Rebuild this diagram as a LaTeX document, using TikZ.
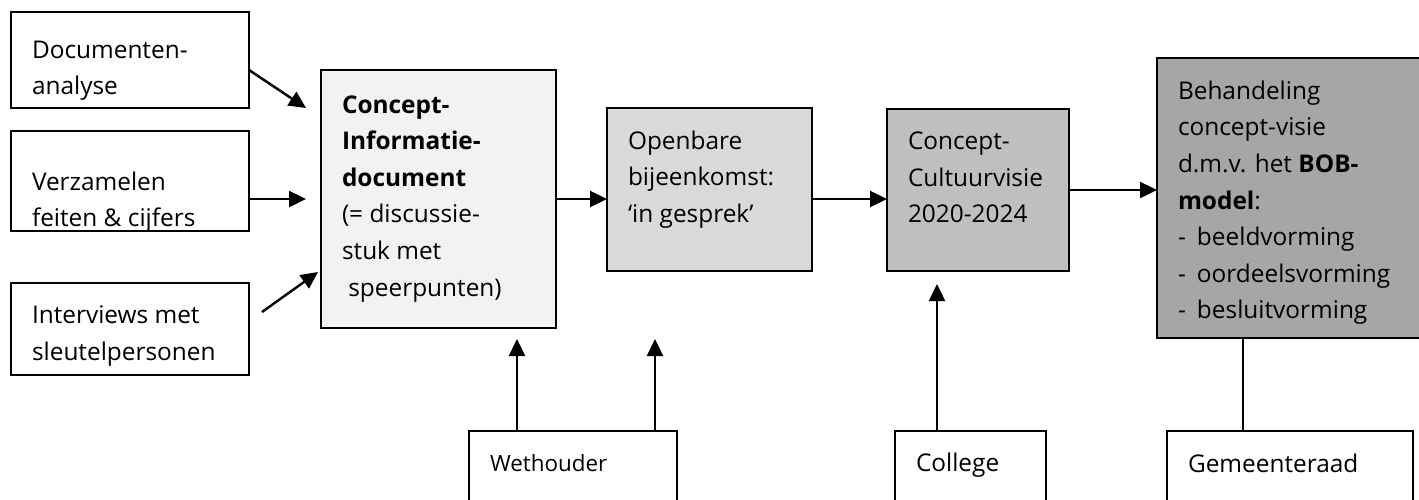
\documentclass[tikz,border=0pt]{standalone}
\usepackage{fontspec}
\setmainfont{Open Sans}
\usepackage{tikz}
\usetikzlibrary{positioning,arrows.meta,calc}
\definecolor{greyA}{HTML}{F2F2F2}
\definecolor{greyB}{HTML}{D9D9D9}
\definecolor{greyC}{HTML}{BFBFBF}
\definecolor{greyD}{HTML}{A6A6A6}
\newcommand{\boxtext}[4]{\parbox[t][#2][t]{#1}{\raggedright\leftskip=10.5pt\relax\vspace*{#3}#4}}
\newcommand{\dashitem}[1]{\makebox[9.5pt][l]{-}#1}

\begin{document}
\begin{tikzpicture}[x=0.5pt,y=-0.5pt,
    box/.style={draw, line width=1pt, anchor=north west, inner sep=0pt, outer sep=0pt,
                font={\fontsize{12.2}{18.3}\selectfont}},
    flow/.style={line width=1.2pt, -{Triangle[length=8.5pt,width=8pt]}},
    link/.style={line width=1.2pt}]
\clip (0,0) rectangle (1419,499);

\node[box] (doc) at (11,12) {\boxtext{119pt}{48pt}{14.4pt}{Documenten-\\analyse}};
\node[box] (verz) at (11,131) {\boxtext{119pt}{50pt}{20.4pt}{Verzamelen\\feiten \& cijfers}};
\node[box] (interv) at (11,283) {\boxtext{119pt}{46pt}{11.4pt}{Interviews met\\sleutelpersonen}};
\node[box, fill=greyA] (concept) at (321,70) {\boxtext{117.5pt}{129pt}{12.7pt}{\textbf{Concept-}\\\textbf{Informatie-}\\\textbf{document}\\(= discussie-\\stuk met\\\ speerpunten)}};
\node[box, fill=greyB] (openbare) at (607,108) {\boxtext{102.5pt}{81.5pt}{11.4pt}{Openbare\\bijeenkomst:\\‘in gesprek’}};
\node[box, fill=greyC] (cultuur) at (887,109) {\boxtext{91pt}{81pt}{11.4pt}{Concept-\\Cultuurvisie\\2020-2024}};
\node[box, fill=greyD] (behandeling) at (1157,58) {\boxtext{141.5pt}{140pt}{11.4pt}{Behandeling\\concept-visie\\d.m.v. het \textbf{BOB-}\\\textbf{model}:\\\dashitem{beeldvorming}\\\dashitem{oordeelsvorming}\\\dashitem{besluitvorming}}};
\node[box, font={\fontsize{11.2}{16}\selectfont}] (wethouder) at (469,431) {\boxtext{104pt}{50pt}{11.5pt}{Wethouder}};
\node[box] (college) at (895,431) {\boxtext{75.5pt}{50pt}{11pt}{College}};
\node[box] (raad) at (1167,431) {\boxtext{123pt}{50pt}{11.4pt}{Gemeenteraad}};

\coordinate (docin) at (306,108);
\coordinate (verzin) at (306,199);
\coordinate (intout) at (262,312);
\coordinate (intin) at (318,272);
\coordinate (wtipA) at (517,339);
\coordinate (wtipB) at (655,339);
\coordinate (ctip) at (937,284);
\coordinate (rline) at (1243,400);

\draw[flow] ([yshift=-5pt]doc.east) -- (docin);
\draw[flow] (verz.east |- verzin) -- (verzin);
\draw[flow] (intout) -- (intin);
\draw[flow] (concept.east) -- (concept.east -| openbare.west);
\draw[flow] (concept.east -| openbare.east) -- (concept.east -| cultuur.west);
\draw[flow] (cultuur.east) -- (cultuur.east -| behandeling.west);
\draw[flow] (wethouder.north -| wtipA) -- (wtipA);
\draw[flow] (wethouder.north -| wtipB) -- (wtipB);
\draw[flow] (college.north -| ctip) -- (ctip);
\draw[link] (raad.north -| rline) -- (behandeling.south -| rline);
\end{tikzpicture}
\end{document}
